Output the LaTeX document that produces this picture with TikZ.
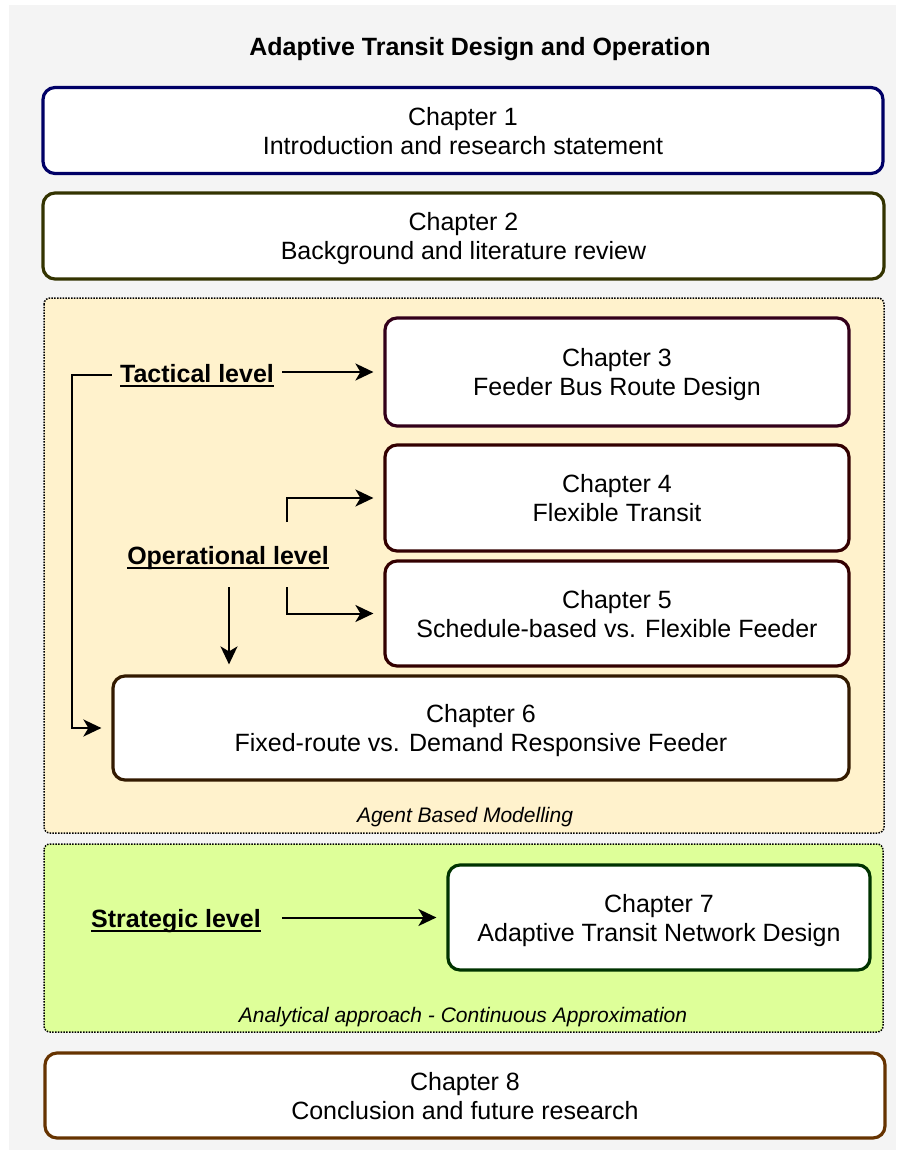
\documentclass[tikz,border=0pt]{standalone}
\usepackage{fontspec}
\setmainfont{Liberation Sans}
\usetikzlibrary{arrows.meta,calc}

\definecolor{pagebg}{HTML}{F4F4F4}
\definecolor{tactfill}{HTML}{FFF2CC}
\definecolor{stratfill}{HTML}{DEFF99}
\definecolor{cOne}{HTML}{000066}
\definecolor{cTwo}{HTML}{333300}
\definecolor{cThree}{HTML}{33001A}
\definecolor{cFour}{HTML}{330000}
\definecolor{cSix}{HTML}{331A00}
\definecolor{cSeven}{HTML}{003300}
\definecolor{cEight}{HTML}{663300}

% underline at a fixed distance below the baseline
\newcommand\ulword[1]{\setbox0\hbox{#1}\rlap{\rule[-4.5pt]{\wd0}{2pt}}\box0}

\tikzset{
  chapbox/.style={rounded corners=12pt, line width=3.2pt, fill=white,
    align=center, inner sep=0pt, text depth=0pt,
    font=\fontsize{25}{29}\selectfont},
  levelbox/.style={inner xsep=8pt, inner ysep=0pt, anchor=base,
    font=\fontsize{25}{29}\selectfont\bfseries},
  groupbox/.style={draw=black, line width=1.5pt,
    dash pattern=on 1.5pt off 1.3pt, rounded corners=6pt},
  grouplabel/.style={anchor=base, inner sep=0pt,
    font=\fontsize{21}{25}\selectfont\itshape},
  conn/.style={line width=2pt, shorten >=10pt,
    -{Stealth[length=18pt,width=17pt,inset=5pt]}},
}

\begin{document}
\begin{tikzpicture}[x=1pt,y=-1pt]
\useasboundingbox (0,0) rectangle (896,1150);
\fill[pagebg] (9,5) rectangle (896,1150);

% title
\node[anchor=base, inner sep=0pt, font=\fontsize{25}{29}\selectfont\bfseries]
  (title) at (480,56) {Adaptive Transit Design and Operation};

% group backgrounds
\draw[groupbox, fill=tactfill] (44,298) rectangle (884,833);
\draw[groupbox, fill=stratfill] (44,844) rectangle (883,1032);

% chapters
\node[chapbox, draw=cOne, minimum width=840pt, minimum height=86pt]
  (ch1) at (463,130.5) {Chapter 1\\Introduction and research statement};
\node[chapbox, draw=cTwo, minimum width=841pt, minimum height=86pt]
  (ch2) at (463.5,236) {Chapter 2\\Background and literature review};
\node[chapbox, draw=cThree, minimum width=464pt, minimum height=108pt]
  (ch3) at (617,372) {Chapter 3\\Feeder Bus Route Design};
\node[chapbox, draw=cFour, minimum width=464pt, minimum height=106pt]
  (ch4) at (617,498) {Chapter 4\\Flexible Transit};
\node[chapbox, draw=cFour, minimum width=464pt, minimum height=105pt]
  (ch5) at (617,613.5) {Chapter 5\\Schedule-based vs. Flexible Feeder};
\node[chapbox, draw=cSix, minimum width=736pt, minimum height=104pt]
  (ch6) at (481,728) {Chapter 6\\Fixed-route vs. Demand Responsive Feeder};
\node[chapbox, draw=cSeven, minimum width=422pt, minimum height=105pt]
  (ch7) at (659,917.5) {Chapter 7\\Adaptive Transit Network Design};
\node[chapbox, draw=cEight, minimum width=840pt, minimum height=85pt]
  (ch8) at (465,1095.5) {Chapter 8\\Conclusion and future research};

% level labels
\node[levelbox] (tac) at (197,382) {\ulword{Tactical level}};
\node[levelbox] (op) at (228,564) {\ulword{Operational level}};
\node[levelbox] (strat) at (176,927) {\ulword{Strategic level}};

% group captions
\node[grouplabel] (abm) at (465,822) {Agent Based Modelling};
\node[grouplabel] (ca) at (463,1022) {Analytical approach - Continuous Approximation};

% connector anchors
\coordinate (lft) at (72,0);
\coordinate (opA) at (287,522);
\coordinate (opB) at (287,587);
\coordinate (opC) at (229,587);

% connectors
\draw[conn] (tac.east |- ch3.west) -- (ch3.west);
\draw[conn] (tac.west) -- (lft |- tac.west) |- (ch6.west);
\draw[conn] (opA) |- (ch4.west);
\draw[conn] (opB) |- (ch5.west);
\draw[conn] (opC) -- (opC |- ch6.north);
\draw[conn] ([xshift=13pt]strat.east |- ch7.west) -- (ch7.west);
\end{tikzpicture}
\end{document}
